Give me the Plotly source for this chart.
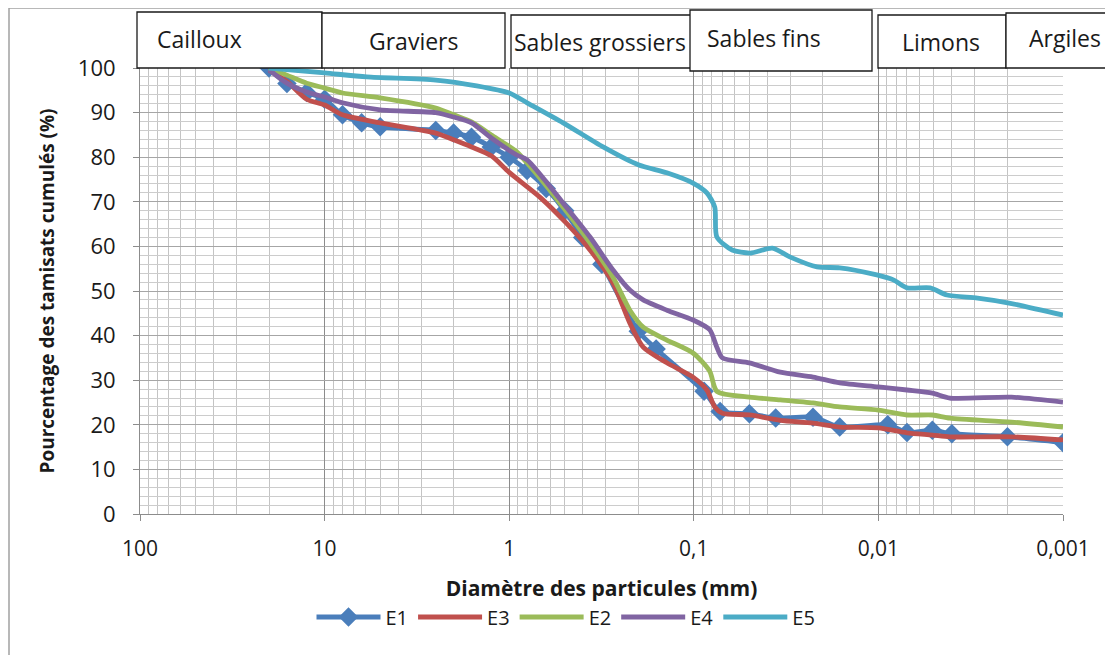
import plotly.graph_objects as go

# ---------------- data ----------------
series_names = ["E1", "E3", "E2", "E4", "E5"]

E1_d = [20, 16, 12.5, 10, 8, 6.3, 5, 2.5, 2, 1.6, 1.25, 1, 0.8, 0.63, 0.5, 0.4, 0.315,
        0.2, 0.16, 0.088, 0.072, 0.05, 0.036, 0.0226, 0.0162, 0.0089, 0.007, 0.0051,
        0.004, 0.002, 0.001]
E1_v = [100, 96.5, 94.5, 93, 89.5, 87.7, 86.8, 86, 85.4, 84.5, 82.3, 80, 77, 73, 68, 62, 56,
        41, 37, 27.5, 23, 22.5, 21.5, 21.7, 19.5, 20, 18.3, 18.8, 18, 17.3, 16]

E3_d = [20, 16, 12.5, 10, 8, 5, 2.5, 2, 1.6, 1.25, 1, 0.68, 0.49, 0.365, 0.274, 0.222,
        0.188, 0.14, 0.101, 0.085, 0.077, 0.07, 0.05, 0.034, 0.0226, 0.0162, 0.01, 0.007,
        0.0051, 0.0041, 0.0019, 0.001]
E3_v = [99.5, 97, 93, 91.7, 89.5, 87.7, 85.4, 83.9, 82.3, 80.3, 76.6, 71, 65.2, 59.2, 51.8,
        42.8, 37.4, 33.9, 30.7, 27.8, 24, 22.6, 22.2, 21, 20.4, 19.5, 19.3, 18.2, 17.7, 17.3,
        17.3, 16.6]

E2_d = [20, 16, 12.5, 10, 8, 5, 2.5, 2, 1.6, 1.25, 0.91, 0.8, 0.51, 0.365, 0.274, 0.222,
        0.188, 0.14, 0.101, 0.082, 0.075, 0.05, 0.034, 0.0226, 0.0162, 0.01, 0.007, 0.0051,
        0.0041, 0.0019, 0.001]
E2_v = [100, 98.4, 96.6, 95.5, 94.4, 93.3, 91, 89.5, 87.9, 85, 81.2, 78.7, 68.8, 60.8, 53.1,
        45.7, 41.9, 39, 36.1, 32, 27.5, 26.2, 25.6, 24.9, 24, 23.3, 22.2, 22.2, 21.5, 20.6, 19.5]

E4_d = [20, 16, 12.5, 10, 8, 5, 2.5, 2, 1.6, 1.25, 0.91, 0.8, 0.51, 0.365, 0.274, 0.222,
        0.188, 0.14, 0.101, 0.082, 0.075, 0.07, 0.05, 0.034, 0.0226, 0.0162, 0.01, 0.007,
        0.0051, 0.0041, 0.0019, 0.001]
E4_v = [99.6, 96.6, 94.6, 93.5, 92.2, 90.6, 90, 89, 87.7, 84.3, 80.5, 79.4, 69.7, 62.1, 54.7,
        50.2, 48, 45.7, 43.5, 41.3, 37.4, 35, 33.9, 31.8, 30.7, 29.4, 28.5, 27.8, 27.1, 26,
        26.2, 25.1]

E5_d = [20, 10, 5.9, 2.5, 1.5, 1, 0.8, 0.51, 0.31, 0.2, 0.14, 0.101, 0.085, 0.077, 0.075,
        0.062, 0.0495, 0.0375, 0.03, 0.0215, 0.0162, 0.0102, 0.0083, 0.007, 0.00525, 0.00425,
        0.0029, 0.00196, 0.001]
E5_v = [100, 98.9, 98, 97.3, 96, 94.4, 92.2, 87.7, 82.3, 78.3, 76.5, 74.2, 72, 68.8, 62.1,
        59.2, 58.5, 59.6, 57.6, 55.4, 55.2, 53.6, 52.5, 50.7, 50.7, 49.1, 48.4, 47.3, 44.6]

x_tickvals = [100, 10, 1, 0.1, 0.01, 0.001]
x_ticktext = ["100", "10", "1", "0,1", "0,01", "0,001"]
x_minor_vals = [k * 10 ** n for n in range(-3, 2) for k in range(2, 10)]

class_labels = ["Cailloux", "Graviers", "Sables grossiers", "Sables fins", "Limons", "Argiles"]

# ---------------- layout geometry (page pixels; page has 8px body margin) ----------------
W, H = 1113, 655
OFF = 8
PL, PR, PT, PB = 140, 1063, 68, 514
FONT = "Open Sans"

def px(x):
    return (x - PL) / (PR - PL)

def py(y):
    return (PB - y) / (PB - PT)

colors = {"E1": "#4A7EBB", "E3": "#C0504D", "E2": "#9BBB59", "E4": "#8064A2", "E5": "#4BACC6"}

fig = go.Figure()
data = {"E1": (E1_d, E1_v), "E3": (E3_d, E3_v), "E2": (E2_d, E2_v),
        "E4": (E4_d, E4_v), "E5": (E5_d, E5_v)}
for name in series_names:
    d, v = data[name]
    if name == "E1":
        fig.add_trace(go.Scatter(x=d, y=v, name=name, mode="lines+markers",
                                 line=dict(color=colors[name], width=4.8, shape="spline", smoothing=0.7),
                                 marker=dict(symbol="diamond", size=15, color=colors[name],
                                             line=dict(width=0))))
    else:
        fig.add_trace(go.Scatter(x=d, y=v, name=name, mode="lines",
                                 line=dict(color=colors[name], width=4.8, shape="spline", smoothing=0.7)))

# header boxes (pixel rectangles) and labels
boxes = [  # x0, x1, y0, y1, text x, anchor
    (137, 322, 12, 68, 155, "left"),
    (322, 505, 13, 68, 413, "center"),
    (511, 693, 15, 68, 600, "center"),
    (690, 872, 10, 71, 705, "left"),
    (878, 1006, 15, 68, 941, "center"),
    (1006, 1125, 13, 68, 1027, "left"),
]
text_y = [39, 41, 42, 38, 42, 38]
shapes = []
annotations = []
for (x0, x1, y0, y1, tx, anc), lab, ty in zip(boxes, class_labels, text_y):
    shapes.append(dict(type="rect", xref="paper", yref="paper",
                       x0=px(x0), x1=px(x1), y0=py(y1), y1=py(y0),
                       line=dict(color="#1a1a1a", width=1.3), fillcolor="white", layer="above"))
    annotations.append(dict(text=lab, xref="paper", yref="paper", x=px(tx), y=py(ty),
                            xanchor=anc, yanchor="middle", showarrow=False,
                            font=dict(family=FONT, size=23, color="#1a1a1a")))

# outer chart border (top and left)
shapes.append(dict(type="line", xref="paper", yref="paper", x0=px(OFF + 1), x1=px(1130),
                   y0=py(8), y1=py(8), line=dict(color="#a0a0a0", width=1.5)))
shapes.append(dict(type="line", xref="paper", yref="paper", x0=px(OFF + 1), x1=px(OFF + 1),
                   y0=py(8), y1=py(670), line=dict(color="#a0a0a0", width=1.5)))

fig.update_layout(
    width=W, height=H, autosize=False,
    margin=dict(l=PL - OFF, r=W - PR + OFF, t=PT - OFF, b=H - PB + OFF),
    paper_bgcolor="white", plot_bgcolor="white",
    font=dict(family=FONT, color="#1a1a1a"),
    showlegend=True,
    legend=dict(orientation="h", x=px(566), xanchor="center", y=py(617), yanchor="middle",
                font=dict(family=FONT, size=20, color="#1a1a1a"), itemwidth=64,
                traceorder="normal", bgcolor="rgba(0,0,0,0)", tracegroupgap=0),
    shapes=shapes, annotations=annotations,
)

fig.update_xaxes(
    type="log", range=[2, -3], tickmode="array", tickvals=x_tickvals, ticktext=x_ticktext,
    showgrid=True, gridcolor="#8c8c8c", gridwidth=1,
    minor=dict(tickmode="array", tickvals=x_minor_vals, showgrid=True,
               gridcolor="#c4c4c4", gridwidth=1, ticks=""),
    showline=True, linecolor="#8c8c8c", linewidth=1,
    ticks="outside", ticklen=6, tickcolor="#8c8c8c",
    tickfont=dict(family=FONT, size=21, color="#1a1a1a"),
    ticklabelstandoff=10,
    title=dict(text="<b>Diamètre des particules (mm)</b>", standoff=20,
               font=dict(family=FONT, size=21, color="#1a1a1a")),
    zeroline=False,
)
fig.update_yaxes(
    range=[0, 100], dtick=10, tick0=0,
    showgrid=True, gridcolor="#a6a6a6", gridwidth=1,
    minor=dict(dtick=2, showgrid=True, gridcolor="#cccccc", gridwidth=1, ticks=""),
    showline=True, linecolor="#8c8c8c", linewidth=1,
    ticks="outside", ticklen=6, tickcolor="#8c8c8c",
    tickfont=dict(family=FONT, size=22, color="#1a1a1a"),
    ticklabelstandoff=13,
    title=dict(text="<b>Pourcentage des tamisats cumulés (%)</b>", standoff=18,
               font=dict(family=FONT, size=19, color="#1a1a1a")),
    zeroline=False,
)

fig.write_html("out.html")
